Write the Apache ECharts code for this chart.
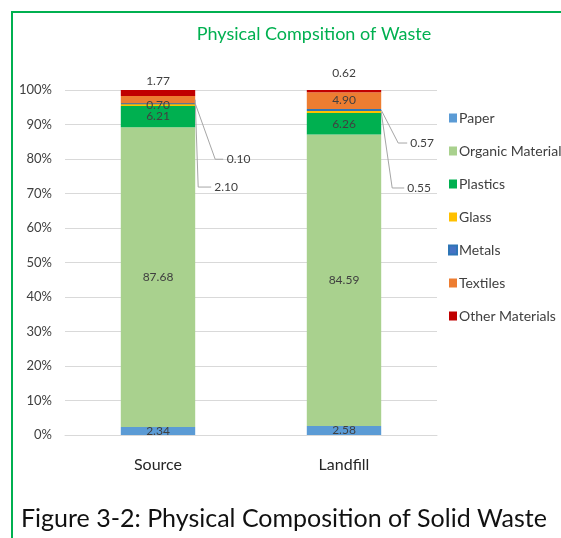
<!DOCTYPE html>
<html>
<head>
<meta charset="utf-8">
<script src="https://cdn.jsdelivr.net/npm/echarts@6/dist/echarts.min.js"></script>
<style>
  html, body { margin: 0; padding: 0; background: #ffffff; }
  #chart { width: 561px; height: 538px; }
</style>
</head>
<body>
<div id="chart"></div>
<script>
// Physical composition of waste (% by weight) at source and at landfill
const categories = ['Source', 'Landfill'];
const seriesNames = ['Paper', 'Organic Material', 'Plastics', 'Glass', 'Metals', 'Textiles', 'Other Materials'];
const paper    = [2.34, 2.58];
const organic  = [87.68, 84.59];
const plastics = [6.21, 6.26];
const glass    = [0.70, 0.55];
const metals   = [0.10, 0.57];
const textiles = [2.10, 4.90];
const other    = [1.77, 0.62];
const yTicks = ['0%', '10%', '20%', '30%', '40%', '50%', '60%', '70%', '80%', '90%', '100%'];

const colors = ['#5b9bd5', '#a9d18e', '#00b050', '#ffc000', '#4472c4', '#ed7d31', '#c00000'];
const textColor = '#404040';
const font = 'Lato, "Open Sans", sans-serif';
const barRatio = 0.4;

const rows = [paper, organic, plastics, glass, metals, textiles, other];

// 100% stacked: each column is scaled to its own total
const totals = categories.map((_, j) => rows.reduce((s, r) => s + r[j], 0));
const pct = rows.map(row => row.map((v, j) => v / totals[j] * 100));

// Labels pulled out of the bar with a leader line: [seriesIndex][dataIndex] -> offset from segment
const leaders = {
  4: { 0: { dx: 31, dy: 56, elbow: 11 }, 1: { dx: 29, dy: 34, elbow: 12 } },
  5: { 0: { dx: 19, dy: 91, elbow: 16 } },
  3: { 1: { dx: 26, dy: 77, elbow: 15 } }
};
// Gap between the top label and the bar for the topmost series
const topGap = [3, 11];

const series = rows.map((row, i) => {
  const isTop = i === rows.length - 1;
  return {
    name: seriesNames[i],
    type: 'bar',
    stack: 'total',
    barWidth: (barRatio * 100) + '%',
    itemStyle: i === 4
      ? { color: colors[i], borderColor: '#2e75b6', borderWidth: 1.5 }
      : { color: colors[i] },
    label: {
      show: true,
      position: isTop ? 'top' : 'inside',
      color: textColor,
      fontFamily: font,
      fontSize: 12,
      formatter: (p) => row[p.dataIndex].toFixed(2)
    },
    data: pct[i].map((v, j) => {
      const item = { value: v };
      if (isTop) item.label = { distance: topGap[j] };
      return item;
    })
  };
});

const chart = echarts.init(document.getElementById('chart'), null, { renderer: 'canvas' });
chart.setOption({
  animation: false,
  backgroundColor: '#ffffff',
  title: {
    text: 'Physical Compsition of Waste',
    left: 309,
    textAlign: 'center',
    top: 20,
    textStyle: { color: '#00b050', fontFamily: font, fontSize: 18, fontWeight: 'normal' }
  },
  legend: {
    orient: 'vertical',
    left: 443,
    top: 106,
    icon: 'rect',
    itemWidth: 8,
    itemHeight: 9,
    itemGap: 19,
    textStyle: { color: textColor, fontFamily: font, fontSize: 14, padding: [0, 0, 0, -3] },
    data: seriesNames
  },
  grid: { left: 65, right: 124, top: 90, bottom: 103, containLabel: false },
  xAxis: {
    type: 'category',
    data: categories,
    axisLine: { show: true, lineStyle: { color: '#d9d9d9' } },
    axisTick: { show: false },
    axisLabel: { color: '#262626', fontFamily: font, fontSize: 16, margin: 22 }
  },
  yAxis: {
    type: 'value',
    min: 0,
    max: 100,
    interval: 10,
    axisLine: { show: false },
    axisTick: { show: false },
    splitLine: { lineStyle: { color: '#d9d9d9' } },
    axisLabel: {
      color: textColor,
      fontFamily: font,
      fontSize: 13,
      margin: 13,
      formatter: (v) => yTicks[Math.round(v / 10)]
    }
  },
  labelLayout: (params) => {
    const l = leaders[params.seriesIndex] && leaders[params.seriesIndex][params.dataIndex];
    if (!l) return {};
    return {
      x: params.rect.x + params.rect.width + l.dx,
      y: params.rect.y + l.dy,
      align: 'left',
      verticalAlign: 'middle'
    };
  },
  graphic: [
    {
      id: 'frame',
      type: 'rect',
      shape: { x: 12, y: 12, width: 600, height: 600 },
      style: { fill: 'none', stroke: '#00b050', lineWidth: 2 },
      silent: true
    },
    {
      id: 'caption',
      type: 'text',
      left: 21,
      top: 506,
      style: {
        text: 'Figure 3-2: Physical Composition of Solid Waste',
        fill: '#111111',
        font: '25px Lato, "Open Sans", sans-serif'
      }
    }
  ],
  series: series
});

// Leader lines for the pulled-out labels, positioned through the axes
const band = chart.convertToPixel({ xAxisIndex: 0 }, 1) - chart.convertToPixel({ xAxisIndex: 0 }, 0);
const leaderLines = [];
Object.keys(leaders).forEach((si) => {
  const s = +si;
  Object.keys(leaders[s]).forEach((dj) => {
    const j = +dj;
    const l = leaders[s][j];
    let below = 0;
    for (let k = 0; k < s; k++) below += pct[k][j];
    const top = below + pct[s][j];
    const pBottom = chart.convertToPixel({ gridIndex: 0 }, [j, below]);
    const pTop = chart.convertToPixel({ gridIndex: 0 }, [j, top]);
    const right = pTop[0] + band * barRatio / 2;
    const lx = right + l.dx;
    const ly = pTop[1] + l.dy;
    leaderLines.push({
      id: 'leader-' + s + '-' + j,
      type: 'polyline',
      silent: true,
      shape: { points: [[right, (pTop[1] + pBottom[1]) / 2], [lx - l.elbow, ly], [lx - 3, ly]] },
      style: { stroke: '#a6a6a6', lineWidth: 1, fill: 'none' },
      z: 5
    });
  });
});
chart.setOption({ graphic: leaderLines });
</script>
</body>
</html>
